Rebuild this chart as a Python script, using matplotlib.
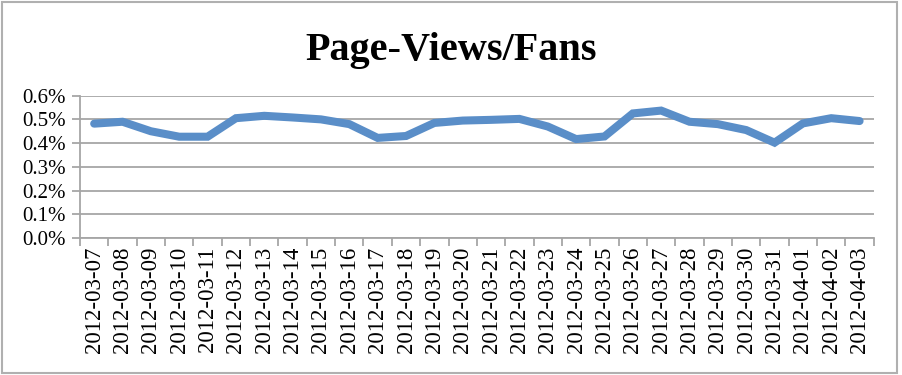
import numpy as np
import matplotlib
matplotlib.use("Agg")
import matplotlib.pyplot as plt
from matplotlib.patches import Rectangle
from matplotlib.ticker import FuncFormatter, FixedLocator

# Data
dates = ["2012-03-07", "2012-03-08", "2012-03-09", "2012-03-10", "2012-03-11",
         "2012-03-12", "2012-03-13", "2012-03-14", "2012-03-15", "2012-03-16",
         "2012-03-17", "2012-03-18", "2012-03-19", "2012-03-20", "2012-03-21",
         "2012-03-22", "2012-03-23", "2012-03-24", "2012-03-25", "2012-03-26",
         "2012-03-27", "2012-03-28", "2012-03-29", "2012-03-30", "2012-03-31",
         "2012-04-01", "2012-04-02", "2012-04-03"]
ratio_pct = [0.482, 0.490, 0.450, 0.427, 0.427,
             0.505, 0.515, 0.508, 0.500, 0.480,
             0.422, 0.430, 0.485, 0.495, 0.498,
             0.502, 0.470, 0.417, 0.428, 0.525,
             0.537, 0.490, 0.480, 0.455, 0.402,
             0.483, 0.505, 0.493]
yticks = [0.0, 0.1, 0.2, 0.3, 0.4, 0.5, 0.6]

plt.rcParams['font.family'] = ['Liberation Serif', 'DejaVu Serif']
grey = "#A6A6A6"

fig = plt.figure(figsize=(9.02, 3.75), dpi=100)
fig.patches.append(Rectangle((0.002, 0.005), 0.993, 0.991, transform=fig.transFigure,
                             fill=False, edgecolor="#B0B0B0", linewidth=1.5))
ax = fig.add_axes([0.0887, 0.365, 0.880, 0.380])

x = np.arange(len(dates))
ax.plot(x, ratio_pct, color="#5A8EC8", linewidth=5.8, solid_capstyle="round",
        solid_joinstyle="miter", zorder=3)

ax.set_xlim(-0.5, len(dates) - 0.5)
ax.set_ylim(0, 0.6)
ax.set_yticks(yticks)
ax.yaxis.set_major_formatter(FuncFormatter(lambda v, p: f"{v:.1f}%"))
ax.grid(axis="y", color=grey, linewidth=1.3)
ax.set_axisbelow(True)

ax.set_xticks(x)
ax.set_xticklabels(dates, rotation=90, fontsize=16.5)
ax.tick_params(axis="x", which="major", length=0, pad=6)
ax.xaxis.set_minor_locator(FixedLocator(np.arange(len(dates) + 1) - 0.5))
ax.tick_params(axis="x", which="minor", length=6, width=1.3, color=grey, direction="out")
ax.tick_params(axis="y", length=6, width=1.3, color=grey, labelsize=15, pad=4)

for side in ["top", "right"]:
    ax.spines[side].set_visible(False)
for side in ["left", "bottom"]:
    ax.spines[side].set_color(grey)
    ax.spines[side].set_linewidth(1.3)

fig.text(0.5, 0.865, "Page-Views/Fans", ha="center", va="center",
         fontsize=29, fontweight="bold")

fig.savefig("out.png", dpi=100)
